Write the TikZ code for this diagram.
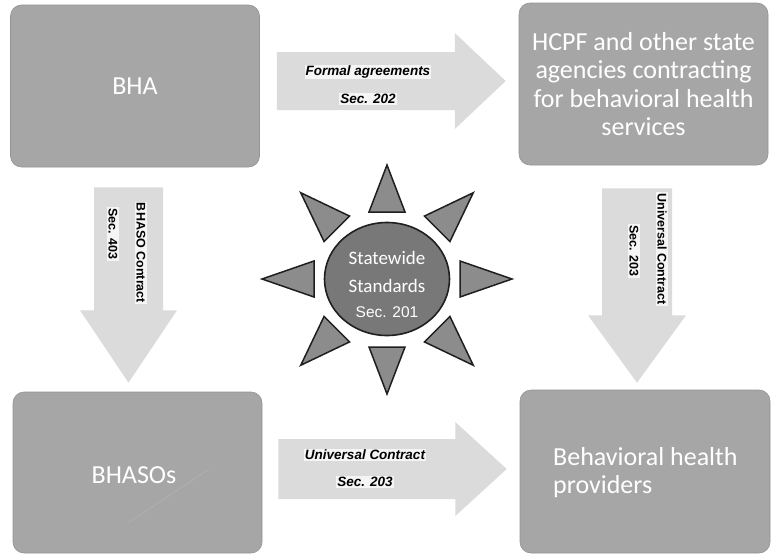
\documentclass[tikz,border=0pt]{standalone}
\usepackage{fontspec}
\setmainfont{Carlito}
\newfontfamily\arialfont{Liberation Sans}
\usetikzlibrary{calc,shapes.geometric}

\definecolor{boxfill}{gray}{0.65}
\definecolor{boxedge}{gray}{0.58}
\definecolor{arrowfill}{gray}{0.86}
\definecolor{labelfill}{gray}{0.96}
\definecolor{sunfill}{gray}{0.47}
\definecolor{rayfill}{gray}{0.55}
\definecolor{sunedge}{gray}{0.12}

\tikzset{
  box/.style={draw=boxedge, line width=0.6pt, fill=boxfill, rounded corners=11pt,
    text=white, font=\fontsize{26}{27}\selectfont, align=center, inner sep=0pt},
  boxtext/.style={text=white, font=\fontsize{26}{28.5}\selectfont, inner sep=0pt},
  blockarrow/.style={fill=arrowfill},
  lbl/.style={fill=labelfill, inner sep=1.2pt, text=black,
    font=\arialfont\bfseries\itshape\fontsize{13.5}{15}\selectfont},
  vlbl/.style={lbl, rotate=-90, font=\arialfont\bfseries\fontsize{12.5}{14}\selectfont},
  ray/.style={fill=rayfill, draw=sunedge, line width=1.5pt, line join=miter},
  sun/.style={ellipse, fill=sunfill, draw=sunedge, line width=1.6pt,
    minimum width=125pt, minimum height=113pt, inner sep=0pt},
  suntext/.style={text=white, inner sep=0pt}
}

\begin{document}
\begin{tikzpicture}[x=1pt,y=-1pt]
\useasboundingbox (0,0) rectangle (771,554);
\fill[white] (0,0) rectangle (771,554);

% the four parties
\node[box, minimum width=249pt, minimum height=162pt] (bha) at (135,86) {BHA};
\node[box, minimum width=249pt, minimum height=162pt] (hcpf) at (643.5,84) {};
\node[boxtext, align=center] (hcpftxt) at (hcpf.center)
  {HCPF and other state\\agencies contracting\\for behavioral health\\services};
\node[box, minimum width=249pt, minimum height=161pt] (bhaso) at (137.5,472.5) {};
\node[boxtext] (bhasotxt) at (134,475) {BHASOs};
\draw[gray!60, line width=0.7pt] ($(bhaso.center)+(-9,50)$) -- ($(bhaso.center)+(71,-3)$);
\node[box, minimum width=250pt, minimum height=163pt] (prov) at (645,471.5) {};
\node[boxtext, align=left, anchor=west] (provtxt) at (553,472.5)
  {Behavioral health\\providers};

% block arrows between the parties
\coordinate (a1) at ($(bha.east)+(17,-5)$);
\coordinate (t1) at ($(hcpf.west |- a1)+(-13,0)$);
\fill[blockarrow] ($(a1)+(0,-29)$) -- ++(178,0) -- ++(0,-19) -- (t1)
  -- ($(a1)+(178,48)$) -- ++(0,-19) -- ++(-178,0) -- cycle;
\coordinate (a2) at ($(bhaso.east)+(16,-3.5)$);
\coordinate (t2) at ($(prov.west |- a2)+(-13,0)$);
\fill[blockarrow] ($(a2)+(0,-30)$) -- ++(177,0) -- ++(0,-17) -- (t2)
  -- ($(a2)+(177,47)$) -- ++(0,-17) -- ++(-177,0) -- cycle;
\coordinate (a3) at ($(bha.south)+(-6.5,20)$);
\coordinate (t3) at ($(bhaso.north -| a3)+(0,-9)$);
\fill[blockarrow] ($(a3)+(-34.5,0)$) -- ++(0,123) -- ++(-14,0) -- (t3)
  -- ($(a3)+(48.5,123)$) -- ++(-14,0) -- ++(0,-123) -- cycle;
\coordinate (a4) at ($(hcpf.south)+(-6.5,23)$);
\coordinate (t4) at ($(prov.north -| a4)+(0,-7)$);
\fill[blockarrow] ($(a4)+(-35,0)$) -- ++(0,127) -- ++(-14,0) -- (t4)
  -- ($(a4)+(49,127)$) -- ++(-14,0) -- ++(0,-127) -- cycle;

% arrow labels
\node[lbl] (fa) at (368,72) {Formal agreements};
\node[lbl] (fas) at (368,99) {Sec. 202};
\node[lbl] (uc) at (365,455) {Universal Contract};
\node[lbl] (ucs) at (365,482) {Sec. 203};
\node[vlbl] (bc) at (141,253) {BHASO Contract};
\node[vlbl] (bcs) at (113,234) {Sec. 403};
\node[vlbl] (vc) at (662,249) {Universal Contract};
\node[vlbl] (vcs) at (634,251) {Sec. 203};

% statewide standards sun
\coordinate (c) at (387,279);
\foreach \a/\rb/\rt in {0/73/125, 45/71/122, 90/68/115, 135/71/122,
                        180/73/125, 225/71/122, 270/67/114, 315/71/122}{
  \draw[ray] ($(c)+(\a:\rb)+(\a+90:18)$) -- ($(c)+(\a:\rt)$)
    -- ($(c)+(\a:\rb)+(\a-90:18)$) -- cycle;
}
\node[sun] (std) at (c) {};
\node[suntext, font=\fontsize{19}{20}\selectfont] (st1) at (387,258) {Statewide};
\node[suntext, font=\fontsize{19}{20}\selectfont] (st2) at (387,286) {Standards};
\node[suntext, font=\arialfont\fontsize{15.5}{17}\selectfont] (st3) at (387,312) {Sec. 201};
\end{tikzpicture}
\end{document}
